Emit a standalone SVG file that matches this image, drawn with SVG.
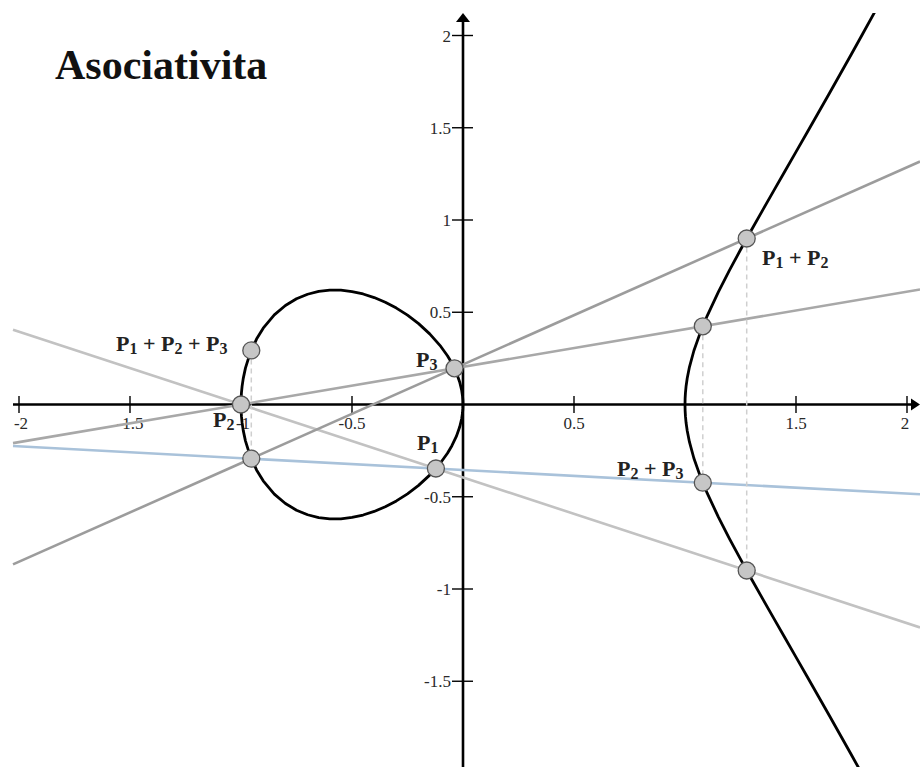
<svg xmlns="http://www.w3.org/2000/svg" width="920" height="767" viewBox="0 0 920 767">
<style>
.axis{stroke:#000;stroke-width:2.6;fill:none}
.tick{stroke:#000;stroke-width:1.4}
.tl{font-family:"Liberation Serif","Times New Roman",serif;font-size:17px;fill:#2a2a2a}
.tx{text-anchor:middle}
.ty{text-anchor:end}
.curve{fill:none;stroke:#000;stroke-width:2.8;vector-effect:non-scaling-stroke;stroke-linejoin:round}
.ln{fill:none;stroke-width:2.6}
.dash{stroke:#cfcfcf;stroke-width:1.5;stroke-dasharray:5 4;fill:none}
.pt{fill:#c6c6c6;stroke:#555;stroke-width:1.3}
.pl{font-family:"Liberation Serif","Times New Roman",serif;font-size:22px;font-weight:bold;fill:#222}
.sub{font-size:16px}
.title{font-family:"Liberation Serif","Times New Roman",serif;font-size:42px;font-weight:bold;fill:#111}
</style>
<defs>
<clipPath id="clip"><rect x="0" y="13" width="920" height="754"/></clipPath>
</defs>
<rect width="920" height="767" fill="#fff"/>

<text class="title" x="55" y="79">Asociativita</text>

<g id="axes">
<line class="axis" x1="13" y1="404.5" x2="912" y2="404.5"/>
<polygon points="920,404.5 911,398.5 911,410.5" fill="#000"/>
<line class="axis" x1="463" y1="767" x2="463" y2="21"/>
<polygon points="463,13 456,22 470,22" fill="#000"/>
<g class="tick">
<line x1="19" y1="396" x2="19" y2="413"/>
<line x1="130" y1="396" x2="130" y2="413"/>
<line x1="241" y1="396" x2="241" y2="413"/>
<line x1="352" y1="396" x2="352" y2="413"/>
<line x1="574" y1="396" x2="574" y2="413"/>
<line x1="685" y1="396" x2="685" y2="413"/>
<line x1="796" y1="396" x2="796" y2="413"/>
<line x1="907" y1="396" x2="907" y2="413"/>
<line x1="452" y1="35.5" x2="473" y2="35.5"/>
<line x1="452" y1="127.75" x2="473" y2="127.75"/>
<line x1="452" y1="220" x2="473" y2="220"/>
<line x1="452" y1="312.25" x2="473" y2="312.25"/>
<line x1="452" y1="496.75" x2="473" y2="496.75"/>
<line x1="452" y1="589" x2="473" y2="589"/>
<line x1="452" y1="681.25" x2="473" y2="681.25"/>
</g>
<g class="tl tx">
<text x="21" y="429">-2</text>
<text x="130" y="429">-1.5</text>
<text x="243" y="429">-1</text>
<text x="352" y="429">-0.5</text>
<text x="574" y="429">0.5</text>
<text x="796" y="429">1.5</text>
<text x="905" y="429">2</text>
</g>
<g class="tl ty">
<text x="451" y="41.5">2</text>
<text x="451" y="133.5">1.5</text>
<text x="451" y="226">1</text>
<text x="451" y="318">0.5</text>
<text x="451" y="502.5">-0.5</text>
<text x="451" y="595">-1</text>
<text x="451" y="687">-1.5</text>
</g>
</g>

<g id="connectors">
<line class="ln" stroke="#c2c2c2" x1="13" y1="329.7" x2="920" y2="627.4"/>
<line class="ln" stroke="#9c9c9c" x1="13" y1="564.4" x2="920" y2="161.5"/>
<line class="ln" stroke="#a8a8a8" x1="13" y1="443.1" x2="920" y2="289.5"/>
<line class="ln" stroke="#a9c2da" x1="13" y1="446" x2="920" y2="494.3"/>
<line class="dash" x1="746.7" y1="238.5" x2="746.7" y2="570.5"/>
<line class="dash" x1="702.8" y1="326.3" x2="702.8" y2="482.7"/>
<line class="dash" x1="251.3" y1="350.4" x2="251.3" y2="458.6"/>
</g>

<g id="curve" clip-path="url(#clip)">
<g transform="matrix(222 0 0 -184.5 463 404.5)">
<path class="curve" d="M-1,0 L-0.9995,0.0316 -0.998,0.06315 -0.995,0.09962 -0.99,0.14036 -0.98,0.197 -0.96,0.27434 -0.93,0.35446 -0.9,0.41352 -0.85,0.48567 -0.8,0.53666 -0.75,0.57282 -0.7,0.59749 -0.65,0.61268 -0.6,0.61968 -0.55,0.61938 -0.5,0.61237 -0.45,0.59906 -0.4,0.57966 -0.35,0.55419 -0.3,0.52249 -0.25,0.48412 -0.2,0.43818 -0.15,0.38292 -0.1,0.31464 -0.07,0.26393 -0.05,0.22333 -0.03,0.17313 -0.015,0.12246 -0.006,0.07746 -0.002,0.04472 -0.0005,0.02236 0,0 -0.0005,-0.02236 -0.002,-0.04472 -0.006,-0.07746 -0.015,-0.12246 -0.03,-0.17313 -0.05,-0.22333 -0.07,-0.26393 -0.1,-0.31464 -0.15,-0.38292 -0.2,-0.43818 -0.25,-0.48412 -0.3,-0.52249 -0.35,-0.55419 -0.4,-0.57966 -0.45,-0.59906 -0.5,-0.61237 -0.55,-0.61938 -0.6,-0.61968 -0.65,-0.61268 -0.7,-0.59749 -0.75,-0.57282 -0.8,-0.53666 -0.85,-0.48567 -0.9,-0.41352 -0.93,-0.35446 -0.96,-0.27434 -0.98,-0.197 -0.99,-0.14036 -0.995,-0.09962 -0.998,-0.06315 -0.9995,-0.0316 Z"/>
<path class="curve" d="M1.95,2.33771 L1.9,2.22688 1.85,2.11699 1.8,2.00798 1.75,1.89984 1.7,1.79249 1.65,1.68586 1.6,1.57987 1.55,1.47441 1.5,1.36931 1.45,1.26437 1.4,1.15931 1.35,1.05374 1.3,0.9471 1.25,0.83853 1.2,0.72664 1.15,0.60899 1.1,0.48062 1.07,0.39376 1.04,0.29131 1.02,0.203 1.01,0.14248 1.005,0.10037 1.002,0.06334 1.0005,0.03164 1,0 1.0005,-0.03164 1.002,-0.06334 1.005,-0.10037 1.01,-0.14248 1.02,-0.203 1.04,-0.29131 1.07,-0.39376 1.1,-0.48062 1.15,-0.60899 1.2,-0.72664 1.25,-0.83853 1.3,-0.9471 1.35,-1.05374 1.4,-1.15931 1.45,-1.26437 1.5,-1.36931 1.55,-1.47441 1.6,-1.57987 1.65,-1.68586 1.7,-1.79249 1.75,-1.89984 1.8,-2.00798 1.85,-2.11699 1.9,-2.22688 1.95,-2.33771"/>
</g>
</g>

<g id="P1"><circle class="pt" cx="435.9" cy="468.5" r="8.5"/><text class="pl" x="417" y="450">P<tspan class="sub" dy="3">1</tspan></text></g>
<g id="P2"><circle class="pt" cx="241" cy="404.5" r="8.5"/><text class="pl" x="213" y="427">P<tspan class="sub" dy="3">2</tspan></text></g>
<g id="P3"><circle class="pt" cx="454.5" cy="368.3" r="8.5"/><text class="pl" x="416" y="367">P<tspan class="sub" dy="3">3</tspan></text></g>
<g id="Q12"><circle class="pt" cx="746.7" cy="570.5" r="8.5"/></g>
<g id="P1P2"><circle class="pt" cx="746.7" cy="238.5" r="8.5"/><text class="pl" x="762" y="265">P<tspan class="sub" dy="3">1</tspan><tspan dy="-3"> + P</tspan><tspan class="sub" dy="3">2</tspan></text></g>
<g id="Q23"><circle class="pt" cx="702.8" cy="326.3" r="8.5"/></g>
<g id="P2P3"><circle class="pt" cx="702.8" cy="482.7" r="8.5"/><text class="pl" x="617" y="476">P<tspan class="sub" dy="3">2</tspan><tspan dy="-3"> + P</tspan><tspan class="sub" dy="3">3</tspan></text></g>
<g id="Q123"><circle class="pt" cx="251.3" cy="458.6" r="8.5"/></g>
<g id="P1P2P3"><circle class="pt" cx="251.3" cy="350.4" r="8.5"/><text class="pl" x="116" y="351">P<tspan class="sub" dy="3">1</tspan><tspan dy="-3"> + P</tspan><tspan class="sub" dy="3">2</tspan><tspan dy="-3"> + P</tspan><tspan class="sub" dy="3">3</tspan></text></g>
</svg>
